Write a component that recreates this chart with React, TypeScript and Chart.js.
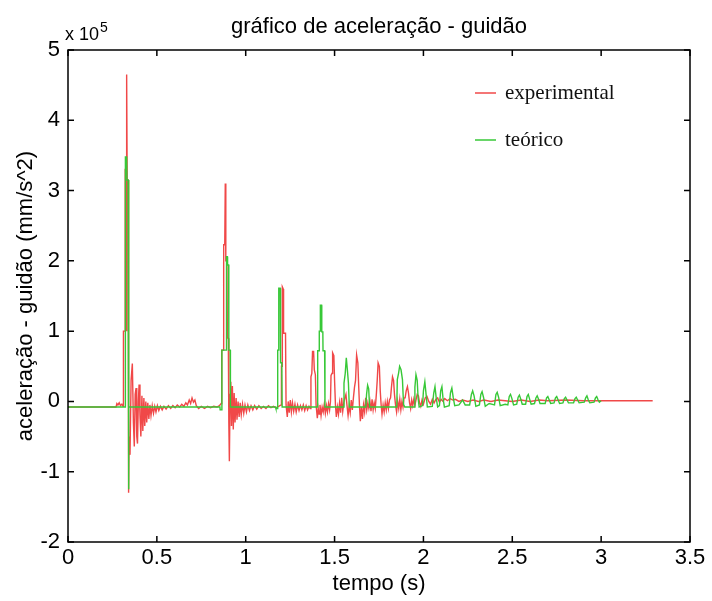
import React, { useEffect, useRef } from "react";
import { Chart, registerables } from "chart.js";

Chart.register(...registerables);

// ---- data (acceleration in units of 1e5 mm/s^2) ----
const expT = [
  0, 0.27, 0.275, 0.281, 0.288, 0.295, 0.303, 0.31, 0.312, 0.321,
  0.322, 0.328, 0.329, 0.331, 0.333, 0.338, 0.341, 0.344, 0.349, 0.355,
  0.362, 0.368, 0.373, 0.378, 0.383, 0.387, 0.391, 0.396, 0.4, 0.405,
  0.41, 0.416, 0.421, 0.427, 0.432, 0.438, 0.443, 0.449, 0.455, 0.461,
  0.467, 0.474, 0.481, 0.488, 0.495, 0.503, 0.511, 0.52, 0.53, 0.54,
  0.552, 0.565, 0.578, 0.59, 0.603, 0.615, 0.628, 0.64, 0.652, 0.663,
  0.672, 0.682, 0.69, 0.698, 0.706, 0.714, 0.722, 0.735, 0.75, 0.768,
  0.785, 0.802, 0.82, 0.838, 0.852, 0.862, 0.865, 0.875, 0.876, 0.882,
  0.885, 0.888, 0.894, 0.897, 0.902, 0.905, 0.908, 0.912, 0.916, 0.92,
  0.925, 0.93, 0.935, 0.94, 0.946, 0.951, 0.957, 0.963, 0.969, 0.975,
  0.982, 0.989, 0.996, 1.004, 1.012, 1.021, 1.03, 1.04, 1.05, 1.062,
  1.074, 1.087, 1.1, 1.114, 1.128, 1.142, 1.156, 1.17, 1.185, 1.199,
  1.201, 1.205, 1.206, 1.211, 1.213, 1.224, 1.227, 1.234, 1.239, 1.245,
  1.251, 1.257, 1.263, 1.27, 1.277, 1.284, 1.292, 1.3, 1.308, 1.316,
  1.324, 1.332, 1.34, 1.348, 1.356, 1.363, 1.367, 1.372, 1.376, 1.382,
  1.386, 1.392, 1.396, 1.403, 1.408, 1.413, 1.418, 1.424, 1.43, 1.436,
  1.442, 1.448, 1.454, 1.46, 1.466, 1.472, 1.477, 1.48, 1.486, 1.489,
  1.496, 1.5, 1.505, 1.51, 1.516, 1.522, 1.528, 1.534, 1.54, 1.546,
  1.552, 1.558, 1.564, 1.57, 1.576, 1.582, 1.588, 1.594, 1.6, 1.606,
  1.612, 1.618, 1.624, 1.631, 1.636, 1.64, 1.645, 1.651, 1.657, 1.663,
  1.669, 1.675, 1.681, 1.687, 1.693, 1.699, 1.705, 1.711, 1.717, 1.723,
  1.729, 1.735, 1.74, 1.745, 1.752, 1.757, 1.762, 1.767, 1.773, 1.779,
  1.785, 1.791, 1.797, 1.803, 1.809, 1.815, 1.82, 1.826, 1.832, 1.837,
  1.843, 1.849, 1.855, 1.861, 1.867, 1.873, 1.879, 1.885, 1.891, 1.897,
  1.903, 1.91, 1.916, 1.922, 1.928, 1.934, 1.94, 1.946, 1.952, 1.958,
  1.965, 1.972, 1.978, 1.985, 1.992, 2.0, 2.01, 2.02, 2.03, 2.04,
  2.05, 2.06, 2.07, 2.08, 2.09, 2.1, 2.11, 2.12, 2.135, 2.15,
  2.165, 2.18, 2.2, 2.22, 2.25, 2.28, 2.31, 2.34, 2.38, 2.42,
  2.46, 2.5, 2.55, 2.6, 2.65, 2.7, 2.8, 2.9, 3.0, 3.1,
  3.2, 3.29,
];
const expA = [
  -0.08, -0.08, -0.03, -0.05, -0.02, -0.06, -0.04, -0.07, 1.0, 1.0,
  3.3, 3.3, 1.0, 4.65, 3.15, 3.15, -1.3, -0.5, -0.76, 0.3,
  0.54, -0.3, -0.64, 0.1, 0.19, -0.5, -0.6, 0.0, 0.24, -0.2,
  -0.5, 0.08, -0.42, 0.05, -0.35, 0.0, -0.3, -0.02, -0.25, -0.05,
  -0.2, -0.06, -0.17, -0.07, -0.15, -0.06, -0.13, -0.07, -0.12, -0.07,
  -0.11, -0.06, -0.1, -0.06, -0.09, -0.05, -0.08, -0.04, -0.07, -0.02,
  -0.05, 0.02, -0.03, 0.05, -0.01, 0.02, -0.06, -0.1, -0.07, -0.1,
  -0.07, -0.09, -0.07, -0.08, -0.06, -0.03, 0.73, 0.73, 2.23, 2.23,
  3.1, 2.0, 2.0, 0.9, 0.9, -0.3, -0.85, 0.1, 0.28, -0.35,
  0.22, -0.4, 0.12, -0.3, 0.05, -0.26, 0.0, -0.22, -0.02, -0.19,
  -0.04, -0.17, -0.05, -0.15, -0.05, -0.13, -0.06, -0.12, -0.06, -0.11,
  -0.06, -0.1, -0.07, -0.1, -0.06, -0.09, -0.07, -0.09, -0.07, -0.05,
  0.5, 0.5, 1.63, 1.6, 0.97, 0.97, -0.05, -0.22, 0.0, -0.16,
  0.02, -0.15, -0.02, -0.14, -0.04, -0.15, -0.05, -0.13, -0.06, -0.12,
  -0.05, -0.13, -0.06, -0.12, -0.07, -0.1, 0.35, 0.4, 0.71, 0.71,
  0.45, 0.38, -0.05, -0.24, -0.1, -0.18, -0.05, -0.2, -0.08, -0.15,
  -0.04, -0.17, -0.06, -0.15, -0.03, -0.12, 0.0, 0.37, 0.4, 0.69,
  0.65, 0.3, -0.05, -0.22, -0.08, -0.18, -0.02, -0.16, 0.05, -0.14,
  -0.02, 0.05, 0.1, -0.06, -0.2, -0.06, -0.16, 0.02, -0.12, 0.05,
  0.2, 0.3, 0.66, 0.55, 0.2, -0.05, -0.28, -0.08, -0.25, -0.05,
  -0.15, 0.05, -0.12, -0.02, -0.1, 0.0, -0.14, 0.03, -0.12, -0.02,
  -0.1, 0.1, 0.3, 0.55, 0.5, 0.15, -0.05, -0.18, -0.05, -0.15,
  -0.02, -0.12, 0.0, -0.1, 0.02, 0.05, 0.2, 0.35, 0.3, 0.1,
  -0.05, -0.15, 0.0, -0.1, 0.03, -0.12, 0.0, -0.08, 0.05, 0.05,
  0.15, 0.21, 0.12, -0.02, -0.1, 0.02, -0.06, 0.03, -0.05, 0.02,
  0.1, 0.08, -0.02, -0.07, 0.02, -0.04, 0.05, 0.07, 0.0, -0.04,
  0.03, -0.02, 0.03, 0.05, -0.01, 0.03, 0.0, 0.04, 0.01, 0.04,
  0.02, 0.03, 0.0, 0.02, 0.0, 0.02, 0.0, 0.02, 0.0, 0.02,
  0.01, 0.0, 0.02, 0.0, 0.02, 0.01, 0.02, 0.01, 0.01, 0.01,
  0.01, 0.01,
];

const teoT = [
  0, 0.322, 0.323, 0.33, 0.332, 0.338, 0.34, 0.343, 0.855, 0.856,
  0.865, 0.866, 0.891, 0.892, 0.897, 0.898, 0.904, 0.905, 0.913, 0.914,
  1.168, 1.17, 1.178, 1.18, 1.185, 1.186, 1.194, 1.196, 1.203, 1.205,
  1.404, 1.405, 1.413, 1.414, 1.419, 1.42, 1.427, 1.428, 1.434, 1.435,
  1.444, 1.446, 1.55, 1.553, 1.56, 1.566, 1.572, 1.578, 1.583, 1.676,
  1.68, 1.686, 1.692, 1.697, 1.85, 1.853, 1.86, 1.866, 1.874, 1.882,
  1.888, 1.895, 1.948, 1.952, 1.958, 1.965, 1.97, 1.976, 1.995, 2.0,
  2.008, 2.015, 2.022, 2.05, 2.058, 2.065, 2.072, 2.08, 2.09, 2.097,
  2.104, 2.11, 2.118, 2.145, 2.152, 2.16, 2.168, 2.176, 2.2, 2.22,
  2.235, 2.26, 2.27, 2.277, 2.285, 2.295, 2.315, 2.323, 2.33, 2.338,
  2.348, 2.37, 2.4, 2.408, 2.415, 2.423, 2.432, 2.46, 2.475, 2.483,
  2.49, 2.498, 2.507, 2.525, 2.533, 2.54, 2.548, 2.556, 2.575, 2.583,
  2.59, 2.598, 2.606, 2.625, 2.633, 2.64, 2.648, 2.656, 2.685, 2.693,
  2.7, 2.708, 2.716, 2.735, 2.743, 2.75, 2.758, 2.766, 2.785, 2.793,
  2.8, 2.808, 2.816, 2.845, 2.853, 2.86, 2.868, 2.876, 2.905, 2.913,
  2.92, 2.928, 2.936, 2.96, 2.968, 2.975, 2.983, 2.99, 3.0,
];
const teoA = [
  -0.08, -0.08, 3.48, 3.48, 3.15, 3.15, -1.25, -0.08, -0.08, -0.12,
  -0.12, 0.73, 0.73, 2.06, 2.06, 1.94, 1.94, 0.73, 0.73, -0.08,
  -0.08, -0.1, -0.1, 0.73, 0.73, 1.61, 1.61, 0.55, 0.55, -0.08,
  -0.08, 0.72, 0.72, 1.0, 1.0, 1.37, 1.37, 0.99, 0.99, 0.72,
  0.72, -0.08, -0.08, 0.26, 0.4, 0.62, 0.45, 0.26, -0.08, -0.08,
  0.1, 0.23, 0.18, -0.08, -0.08, 0.31, 0.4, 0.5, 0.45, 0.31,
  -0.04, -0.08, -0.08, 0.2, 0.38, 0.3, 0.05, -0.08, -0.06, 0.15,
  0.28, 0.1, -0.08, -0.07, 0.12, 0.21, 0.05, -0.08, -0.06, 0.15,
  0.21, 0.05, -0.08, -0.06, 0.12, 0.19, 0.05, -0.06, -0.05, 0.02,
  -0.05, -0.05, 0.1, 0.15, 0.08, -0.07, -0.05, 0.1, 0.14, 0.06,
  -0.07, -0.03, -0.05, 0.1, 0.13, 0.06, -0.06, -0.04, -0.05, 0.07,
  0.1, 0.04, -0.05, -0.04, 0.06, 0.09, 0.03, -0.04, -0.04, 0.07,
  0.1, 0.03, -0.04, -0.03, 0.05, 0.08, 0.03, -0.03, -0.03, 0.05,
  0.07, 0.02, -0.03, -0.02, 0.05, 0.07, 0.02, -0.03, -0.02, 0.04,
  0.06, 0.02, -0.02, -0.02, 0.04, 0.06, 0.02, -0.02, -0.01, 0.05,
  0.08, 0.02, -0.02, -0.01, 0.05, 0.07, 0.02, -0.01, 0.01,
];

const xRange = [0, 3.5];
const yRange = [-2, 5];
const xStep = 0.5;
const yStep = 1;
const seriesNames = ["experimental", "teórico"];
const seriesColors = ["rgb(240,72,72)", "rgb(55,200,55)"];
const titleText = "gráfico de aceleração - guidão";
const xLabel = "tempo (s)";
const yLabel = "aceleração - guidão (mm/s^2)";
const multiplierText = "x 10";
const exponentText = "5";

const SANS = '"Liberation Sans", Arial, Helvetica, sans-serif';
const SERIF = '"Liberation Serif", "Times New Roman", serif';

const fmt = (v: any) => String(Math.round(Number(v) * 100) / 100);

const framePlugin = {
  id: "matlabFrame",
  afterDraw(chart: any) {
    const { ctx, chartArea: a, scales } = chart;
    ctx.save();
    ctx.strokeStyle = "#000";
    ctx.lineWidth = 1.5;
    ctx.strokeRect(a.left, a.top, a.right - a.left, a.bottom - a.top);
    const L = 6;
    ctx.beginPath();
    for (const t of scales.x.ticks) {
      const px = scales.x.getPixelForValue(t.value);
      ctx.moveTo(px, a.bottom);
      ctx.lineTo(px, a.bottom - L);
      ctx.moveTo(px, a.top);
      ctx.lineTo(px, a.top + L);
    }
    for (const t of scales.y.ticks) {
      const py = scales.y.getPixelForValue(t.value);
      ctx.moveTo(a.left, py);
      ctx.lineTo(a.left + L, py);
      ctx.moveTo(a.right, py);
      ctx.lineTo(a.right - L, py);
    }
    ctx.stroke();

    // title
    ctx.fillStyle = "#000";
    ctx.font = "22px " + SANS;
    ctx.textAlign = "center";
    ctx.textBaseline = "alphabetic";
    ctx.fillText(titleText, (a.left + a.right) / 2, a.top - 17);

    // multiplier
    ctx.textAlign = "left";
    ctx.font = "18px " + SANS;
    ctx.fillText(multiplierText, a.left - 3, a.top - 10);
    const w = ctx.measureText(multiplierText).width;
    ctx.font = "14px " + SANS;
    ctx.fillText(exponentText, a.left - 3 + w + 1, a.top - 18);

    // legend
    ctx.font = "21px " + SERIF;
    const lx0 = a.right - 215;
    const lx1 = a.right - 194;
    const tx = a.right - 185;
    const rows = [a.top + 43, a.top + 90];
    rows.forEach((ry, i) => {
      ctx.strokeStyle = seriesColors[i];
      ctx.lineWidth = 1.5;
      ctx.beginPath();
      ctx.moveTo(lx0, ry);
      ctx.lineTo(lx1, ry);
      ctx.stroke();
      ctx.fillStyle = "#111";
      ctx.textBaseline = "middle";
      ctx.fillText(seriesNames[i], tx, ry);
    });
    ctx.restore();
  },
};

export default function App() {
  const ref = useRef<HTMLCanvasElement | null>(null);
  useEffect(() => {
    if (!ref.current) return;
    const chart = new Chart(ref.current, {
      type: "line",
      data: {
        datasets: [
          {
            label: seriesNames[0],
            data: expT.map((t, i) => ({ x: t, y: expA[i] })),
            borderColor: seriesColors[0],
            borderWidth: 1.4,
            pointRadius: 0,
            tension: 0,
            order: 1,
          },
          {
            label: seriesNames[1],
            data: teoT.map((t, i) => ({ x: t, y: teoA[i] })),
            borderColor: seriesColors[1],
            borderWidth: 1.4,
            pointRadius: 0,
            tension: 0,
            order: 0,
          },
        ],
      },
      options: {
        animation: false,
        responsive: false,
        events: [],
        layout: { padding: { top: 50, right: 22, bottom: 0, left: 0 } },
        plugins: {
          legend: { display: false },
          tooltip: { enabled: false },
          title: { display: false },
        },
        scales: {
          x: {
            type: "linear",
            min: xRange[0],
            max: xRange[1],
            grid: { display: false, drawTicks: false },
            border: { display: false },
            ticks: {
              stepSize: xStep,
              color: "#000",
              font: { family: SANS, size: 22 },
              padding: 3,
              maxRotation: 0,
              callback: fmt,
            },
            title: {
              display: true,
              text: xLabel,
              color: "#000",
              font: { family: SANS, size: 22 },
              padding: { top: 0, bottom: 4 },
            },
            afterFit: (s: any) => {
              s.height = 59;
            },
          },
          y: {
            type: "linear",
            min: yRange[0],
            max: yRange[1],
            grid: { display: false, drawTicks: false },
            border: { display: false },
            ticks: {
              stepSize: yStep,
              color: "#000",
              font: { family: SANS, size: 22 },
              padding: 8,
              callback: fmt,
            },
            title: {
              display: true,
              text: yLabel,
              color: "#000",
              font: { family: SANS, size: 22 },
              padding: { top: 13, bottom: 0 },
            },
            afterFit: (s: any) => {
              s.width = 68;
            },
          },
        },
      },
      plugins: [framePlugin],
    });
    return () => chart.destroy();
  }, []);
  return (
    <div style={{ position: "fixed", left: 0, top: 0, width: 712, height: 601, background: "#fff" }}>
      <canvas ref={ref} width={712} height={601} style={{ width: 712, height: 601, display: "block" }} />
    </div>
  );
}
